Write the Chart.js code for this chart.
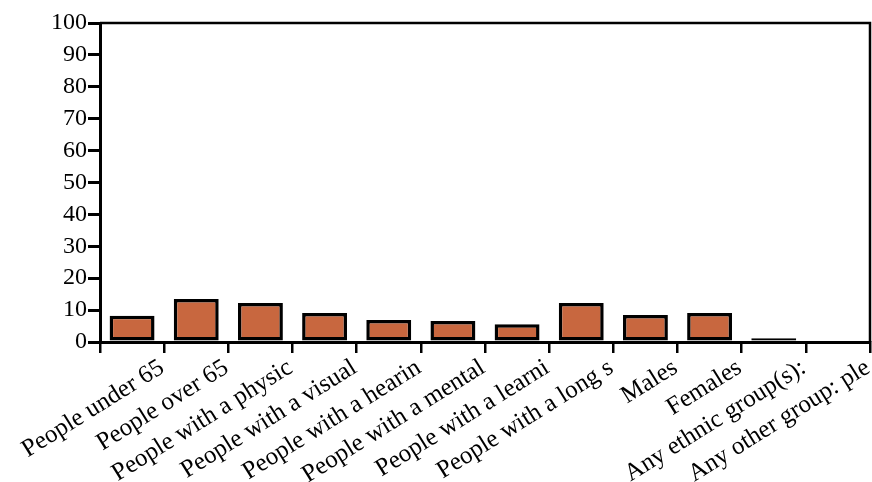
<!DOCTYPE html>
<html>
<head>
<meta charset="utf-8">
<script src="https://cdn.jsdelivr.net/npm/chart.js@4"></script>
<style>
    body { margin: 0; background: #fff; }
    #wrap { width: 872px; height: 482px; }
</style>
</head>
<body>
<div id="wrap"><canvas id="barChart"></canvas></div>
<script>
const categories = [
    'People under 65', 'People over 65', 'People with a physic', 'People with a visual',
    'People with a hearin', 'People with a mental', 'People with a learni', 'People with a long s',
    'Males', 'Females', 'Any ethnic group(s):', 'Any other group: ple'
];
const values = [8.2, 13.5, 12.2, 9.1, 6.9, 6.6, 5.6, 12.2, 8.5, 9.1, 1.2, 0];
const yTicks = [0, 10, 20, 30, 40, 50, 60, 70, 80, 90, 100];

// top and right edges of the plot box
const framePlugin = {
    id: 'frame',
    afterDraw(chart) {
        const a = chart.chartArea;
        const ctx = chart.ctx;
        ctx.save();
        ctx.strokeStyle = '#000';
        ctx.lineWidth = 2.5;
        ctx.beginPath();
        ctx.moveTo(a.left, a.top);
        ctx.lineTo(a.right, a.top);
        ctx.lineTo(a.right, a.bottom);
        ctx.stroke();
        ctx.restore();
    }
};

const ctx = document.getElementById('barChart').getContext('2d');
new Chart(ctx, {
    type: 'bar',
    data: {
        labels: categories,
        datasets: [{
            data: values,
            backgroundColor: '#c8673f',
            borderColor: '#000',
            borderWidth: 3.5,
            borderSkipped: false,
            categoryPercentage: 1,
            barPercentage: 0.7
        }]
    },
    options: {
        responsive: true,
        maintainAspectRatio: false,
        animation: false,
        layout: { padding: { top: 23, right: 2, left: 0, bottom: 0 } },
        plugins: { legend: { display: false }, tooltip: { enabled: false } },
        scales: {
            x: {
                grid: { drawOnChartArea: false, tickLength: 11, color: '#000', lineWidth: 2.5 },
                border: { color: '#000', width: 3 },
                ticks: {
                    color: '#000',
                    font: { family: 'Liberation Serif', size: 25 },
                    minRotation: 32,
                    maxRotation: 32,
                    autoSkip: false,
                    labelOffset: 30,
                    padding: 0
                },
                afterFit(scale) {
                    scale.height = 140;
                    scale.paddingLeft = 0;
                    scale.paddingRight = 0;
                }
            },
            y: {
                min: 0,
                max: 100,
                afterBuildTicks(scale) {
                    scale.ticks = yTicks.map(v => ({ value: v }));
                },
                grid: { drawOnChartArea: false, tickLength: 12, color: '#000', lineWidth: 3 },
                border: { color: '#000', width: 3 },
                ticks: {
                    color: '#000',
                    font: { family: 'Liberation Serif', size: 24 },
                    padding: 1
                },
                afterFit(scale) {
                    scale.width = 100;
                }
            }
        }
    },
    plugins: [framePlugin]
});
</script>
</body>
</html>
